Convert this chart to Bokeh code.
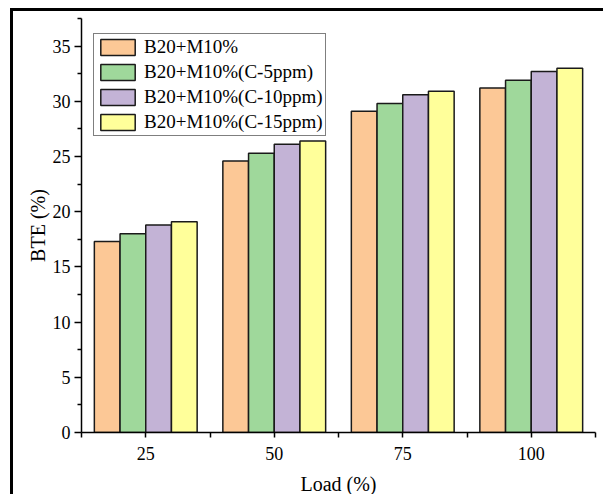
from bokeh.plotting import figure
from bokeh.models import ColumnDataSource, FixedTicker, Legend, LegendItem
from bokeh.transform import dodge
from bokeh.embed import file_html
from bokeh.resources import INLINE

# ---- data ----
loads = ["25", "50", "75", "100"]
bte_b20m10 = [17.3, 24.6, 29.1, 31.2]
bte_c5 = [18.0, 25.3, 29.8, 31.9]
bte_c10 = [18.8, 26.1, 30.6, 32.7]
bte_c15 = [19.1, 26.4, 30.9, 33.0]
series_names = ["B20+M10%", "B20+M10%(C-5ppm)", "B20+M10%(C-10ppm)", "B20+M10%(C-15ppm)"]
series_keys = ["s0", "s1", "s2", "s3"]
colors = ["#FCC896", "#9FD89B", "#C3B3D6", "#FFFF9A"]
y_ticks = [0, 5, 10, 15, 20, 25, 30, 35]
y_minor = [2.5, 7.5, 12.5, 17.5, 22.5, 27.5, 32.5, 37.5]

positions = list(range(1, len(loads) + 1))
src = ColumnDataSource(dict(x=positions, s0=bte_b20m10, s1=bte_c5, s2=bte_c10, s3=bte_c15))

FONT = "Liberation Serif"

p = figure(frame_width=514, frame_height=414,
           x_range=(0.5, 4.5), y_range=(0, 37.5),
           output_backend="svg", toolbar_location=None,
           min_border_left=68, min_border_top=7, min_border_right=8, min_border_bottom=60,
           margin=(8, 0, 0, 10),
           styles={"border-left": "3px solid black", "border-top": "3px solid black"})

p.outline_line_color = None
p.xgrid.visible = False
p.ygrid.visible = False
p.background_fill_color = "white"
p.border_fill_color = "white"

offsets = [-0.3, -0.1, 0.1, 0.3]
renderers = []
for key, off, col in zip(series_keys, offsets, colors):
    r = p.vbar(x=dodge("x", off, range=p.x_range), top=key, width=0.2, source=src,
               fill_color=col, line_color="#1a1a1a", line_width=1.5)
    renderers.append(r)

legend = Legend(items=[LegendItem(label=n, renderers=[r]) for n, r in zip(series_names, renderers)],
                location=(12, 296), glyph_width=43, glyph_height=20, label_height=20,
                spacing=3, padding=2, margin=0, label_standoff=5,
                border_line_color="black", border_line_width=1,
                label_text_font=FONT, label_text_font_size="19px", label_text_color="black",
                background_fill_color="white", background_fill_alpha=1)
p.add_layout(legend)

# x axis
xa = p.xaxis[0]
xa.ticker = FixedTicker(ticks=positions, minor_ticks=[0.5, 1.5, 2.5, 3.5, 4.5])
xa.major_label_overrides = {pos: lab for pos, lab in zip(positions, loads)}
xa.axis_label = "Load (%)"
# y axis
ya = p.yaxis[0]
ya.ticker = FixedTicker(ticks=y_ticks, minor_ticks=y_minor)
ya.axis_label = "BTE (%)"

for ax in (xa, ya):
    ax.axis_line_color = "black"
    ax.axis_line_width = 1.5
    ax.major_tick_line_color = "black"
    ax.minor_tick_line_color = "black"
    ax.major_tick_line_width = 1.5
    ax.minor_tick_line_width = 1.5
    ax.major_tick_in = 0
    ax.minor_tick_in = 0
    ax.major_label_text_font = FONT
    ax.major_label_text_font_size = "18px"
    ax.major_label_text_color = "black"
    ax.axis_label_text_font = FONT
    ax.axis_label_text_font_size = "20px"
    ax.axis_label_text_font_style = "normal"
    ax.axis_label_text_color = "black"

xa.major_tick_out = 5
xa.minor_tick_out = 5
xa.major_label_standoff = 9
xa.axis_label_standoff = 10
ya.major_tick_out = 7
ya.minor_tick_out = 4
ya.major_label_standoff = 4
ya.axis_label_standoff = 1

open("out.html", "w").write(file_html(p, INLINE))
